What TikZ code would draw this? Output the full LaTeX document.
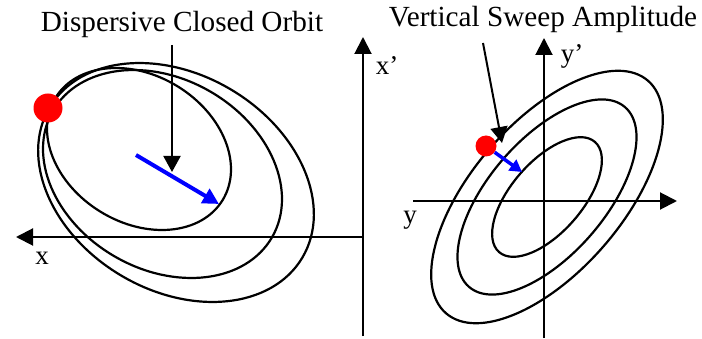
\documentclass[tikz,border=0pt]{standalone}
\usepackage{fontspec}
\setmainfont{Liberation Serif}
\usetikzlibrary{arrows.meta}
\tikzset{
  orbit/.style={line width=2.2pt, black},
  axis/.style={line width=2pt, black, -{Triangle[length=17pt,width=17pt]}},
  pointer/.style={line width=2pt, black, -{Triangle[length=16pt,width=17pt]}},
  sweep/.style={line width=4pt, blue, -{Triangle[length=16pt,width=16pt]}},
  sweepsmall/.style={line width=3.5pt, blue, -{Triangle[length=12pt,width=13pt]}},
  label/.style={font=\fontsize{29.2}{31}\selectfont, inner sep=0pt},
  axlabel/.style={font=\fontsize{27}{29}\selectfont, inner sep=0pt},
  dot/.style={circle, fill=red, inner sep=0pt}
}
\begin{document}
\begin{tikzpicture}[x=1pt,y=-1pt]
\useasboundingbox (0,0) rectangle (702,339);
% ---------- left panel ----------
\draw[orbit, rotate around={-31.5:(139,149)}] (139,149) ellipse [x radius=98, y radius=73.6];
\draw[orbit, rotate around={-30:(162.5,174)}] (162.5,174) ellipse [x radius=126.5, y radius=95.3];
\draw[orbit, rotate around={-30.8:(176,182.5)}] (176,182.5) ellipse [x radius=147, y radius=108];
\coordinate (xo) at (363,237);
\coordinate (xend) at (16,237);
\coordinate (xpbot) at (363,336);
\coordinate (xptop) at (363,37);
\draw[axis] (xo) -- (xend);
\draw[axis] (xpbot) -- (xptop);
\node[axlabel] (xlab) at (42,258) {x};
\node[axlabel] (xplab) at (387,66) {x’};
\node[dot, minimum size=29pt] (dotL) at (48,108) {};
\node[label, anchor=base] (titleL) at (182,32) {Dispersive Closed Orbit};
\coordinate (pL0) at (172,45);
\coordinate (pL1) at (172,172);
\draw[pointer] (pL0) -- (pL1);
\coordinate (bL0) at (136,155);
\coordinate (bL1) at (219,204);
\draw[sweep] (bL0) -- (bL1);
% ---------- right panel ----------
\draw[orbit, rotate around={49:(547,197)}] (547,197) ellipse [x radius=154, y radius=75];
\draw[orbit, rotate around={49:(547,197)}] (547,197) ellipse [x radius=119, y radius=58];
\draw[orbit, rotate around={49:(547,197)}] (547,197) ellipse [x radius=73, y radius=35.5];
\coordinate (yo) at (413,201);
\coordinate (yend) at (677,201);
\coordinate (ypbot) at (544,338);
\coordinate (yptop) at (544,38);
\draw[axis] (yo) -- (yend);
\draw[axis] (ypbot) -- (yptop);
\node[axlabel] (ylab) at (410,220) {y};
\node[axlabel] (yplab) at (572,56) {y’};
\node[dot, minimum size=21pt] (dotR) at (486,146) {};
\node[label, anchor=base] (titleR) at (543,27) {Vertical Sweep Amplitude};
\coordinate (pR0) at (483,43);
\coordinate (pR1) at (502,143);
\draw[pointer] (pR0) -- (pR1);
\coordinate (bR1) at (522,172);
\draw[sweepsmall] (dotR) -- (bR1);
\end{tikzpicture}
\end{document}
